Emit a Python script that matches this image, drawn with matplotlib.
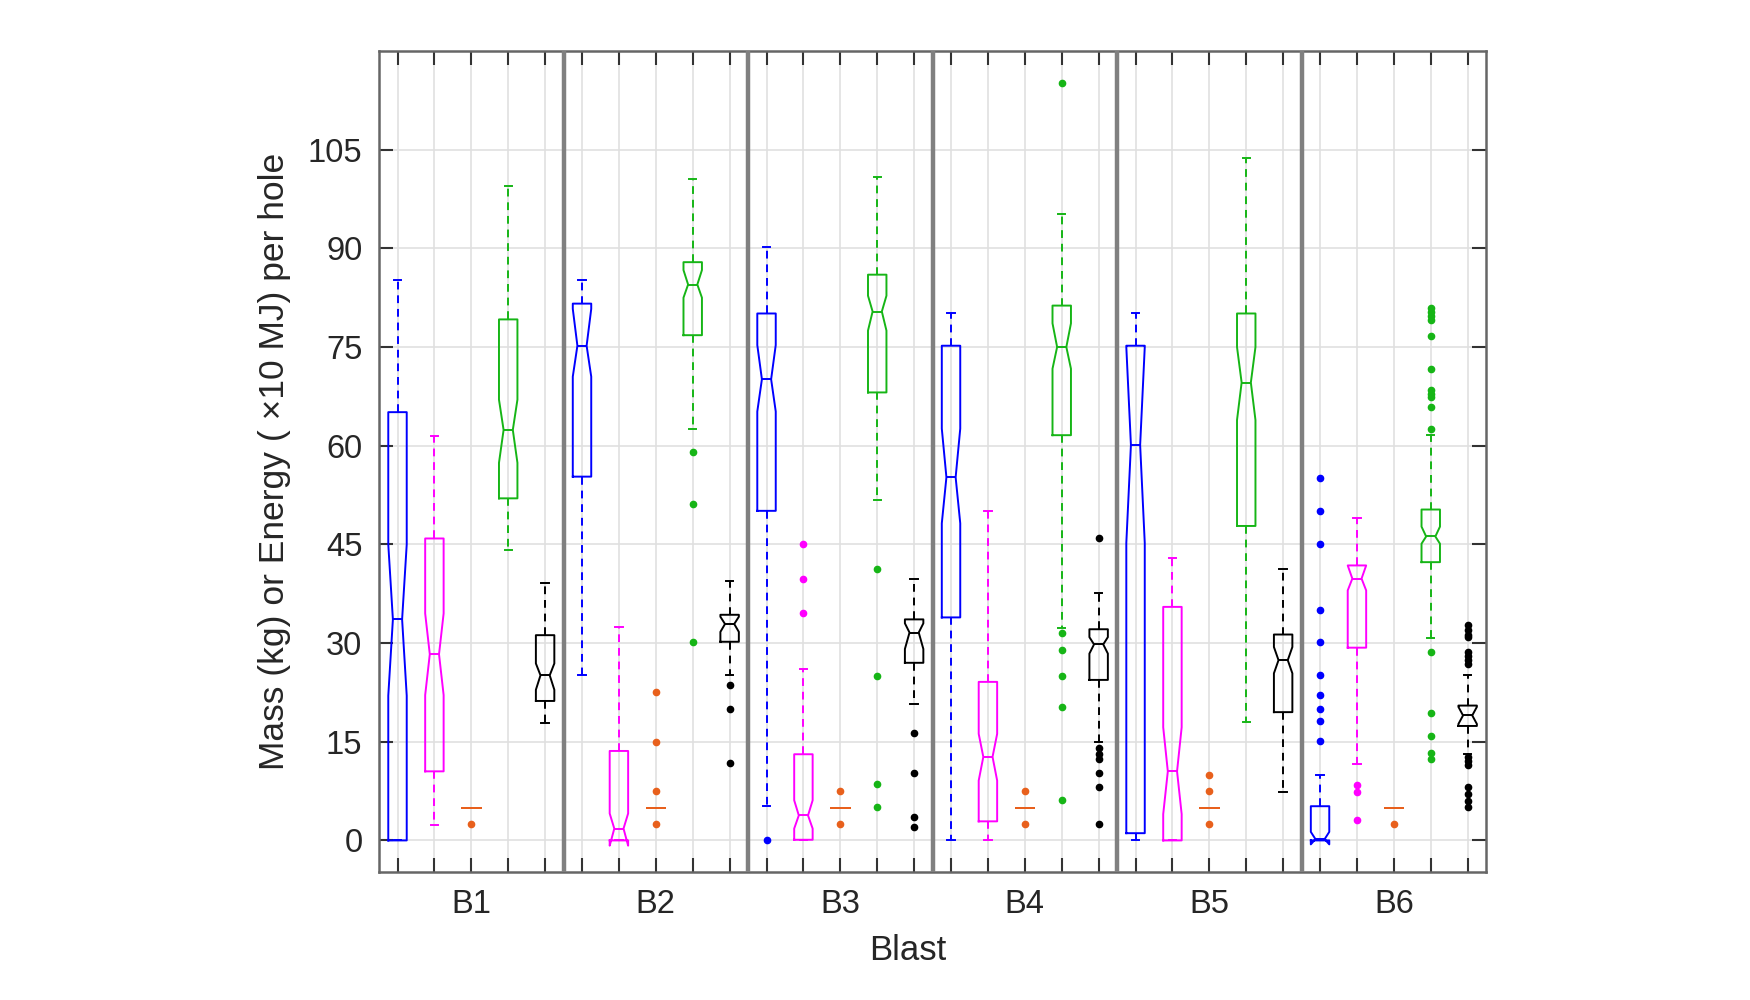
import matplotlib
matplotlib.use('Agg')
import matplotlib.pyplot as plt

plt.rcParams['font.family'] = ['Liberation Sans', 'DejaVu Sans']

blasts = ['B1', 'B2', 'B3', 'B4', 'B5', 'B6']
colors = ['#0000ff', '#ff00ff', '#e8601c', '#16b516', '#000000']

# box statistics, one row per series (blue, magenta, orange, green, black), one value per blast
whishi = [
    [85.2, 85.2, 90.2, 80.1, 80.1, 10.0],
    [61.5, 32.4, 26.1, 50.1, 42.9, 49.0],
    [5, 5, 5, 5, 5, 5],
    [99.5, 100.5, 100.9, 95.2, 103.8, 61.6],
    [39.1, 39.5, 39.8, 37.6, 41.2, 25.1],
]
q3 = [
    [65.1, 81.6, 80.1, 75.2, 75.2, 5.2],
    [45.9, 13.6, 13.1, 24.1, 35.5, 41.8],
    [5, 5, 5, 5, 5, 5],
    [79.2, 87.9, 86.0, 81.3, 80.1, 50.3],
    [31.2, 34.3, 33.6, 32.1, 31.3, 20.5],
]
cihi = [
    [45.0, 80.8, 75.3, 62.6, 75.0, 1.3],
    [34.5, 4.1, 6.1, 16.2, 17.2, 41.8],
    [5, 5, 5, 5, 5, 5],
    [67.0, 86.7, 82.8, 78.6, 75.0, 47.7],
    [26.9, 34.0, 33.0, 30.9, 29.4, 20.3],
]
med = [
    [33.6, 75.2, 70.1, 55.2, 60.1, 0.2],
    [28.3, 1.8, 3.8, 12.7, 10.5, 39.8],
    [5, 5, 5, 5, 5, 5],
    [62.4, 84.5, 80.4, 75.0, 69.6, 46.2],
    [25.1, 32.9, 31.6, 29.8, 27.4, 19.0],
]
cilo = [
    [22.0, 70.5, 65.2, 48.2, 45.2, -0.6],
    [22.1, -0.8, 1.8, 9.1, 4.0, 38.0],
    [5, 5, 5, 5, 5, 5],
    [57.4, 82.5, 77.5, 71.7, 63.9, 45.1],
    [22.9, 31.7, 29.1, 28.4, 25.4, 17.7],
]
q1 = [
    [0, 55.3, 50.1, 33.9, 1.1, 0],
    [10.5, 0, 0.1, 2.9, 0, 29.3],
    [5, 5, 5, 5, 5, 5],
    [52.0, 76.8, 68.1, 61.6, 47.8, 42.3],
    [21.2, 30.2, 27.0, 24.4, 19.5, 17.4],
]
whislo = [
    [0, 25.2, 5.2, 0, 0, 0],
    [2.3, 0, 0, 0, 0, 11.6],
    [5, 5, 5, 5, 5, 5],
    [44.1, 62.5, 51.7, 32.3, 18.0, 30.7],
    [17.8, 25.2, 20.7, 15.0, 7.4, 13.2],
]
fliers = [
    [[], [], [0.1], [], [], [55.1, 50.1, 45.0, 35.1, 30.1, 25.1, 22.1, 20.0, 18.2, 15.1]],
    [[], [], [45.0, 39.7, 34.5], [], [], [8.5, 7.3, 3.1]],
    [[2.5], [22.5, 15, 7.5, 2.5], [7.5, 2.5], [7.5, 2.5], [10, 7.5, 2.5], [2.5]],
    [[], [59.0, 51.1, 30.1], [41.3, 25.0, 8.6, 5.1], [115.1, 31.6, 29.0, 25.0, 20.3, 6.2], [],
     [80.9, 80.3, 79.7, 79.1, 76.7, 71.6, 68.5, 67.9, 67.4, 65.9, 62.6, 28.6, 19.3, 15.9, 13.3, 12.4]],
    [[], [23.6, 20.0, 11.8], [16.4, 10.2, 3.5, 2.1], [46.0, 14.0, 13.2, 12.4, 10.2, 8.1, 2.5], [],
     [32.7, 32.0, 31.3, 30.9, 28.6, 28.0, 27.4, 26.8, 12.7, 12.0, 11.4, 8.1, 7.1, 6.0, 5.1]],
]
yticks = [0, 15, 30, 45, 60, 75, 90, 105]

n_series = len(colors)
fig = plt.figure(figsize=(17.5, 10), dpi=100)
ax = fig.add_axes([0.2166, 0.128, 0.6326, 0.821])

for s, c in enumerate(colors):
    stats = []
    for b in range(len(blasts)):
        stats.append(dict(med=med[s][b], q1=q1[s][b], q3=q3[s][b],
                          cilo=cilo[s][b], cihi=cihi[s][b],
                          whislo=whislo[s][b], whishi=whishi[s][b],
                          fliers=fliers[s][b]))
    pos = [b * n_series + s + 1 for b in range(len(blasts))]
    ax.bxp(stats, positions=pos, widths=0.5, capwidths=0.2, shownotches=True,
           manage_ticks=False, zorder=3,
           boxprops=dict(color=c, linewidth=1.4),
           medianprops=dict(color=c, linewidth=1.4),
           whiskerprops=dict(color=c, linewidth=1.4, linestyle=(0, (4, 3))),
           capprops=dict(color=c, linewidth=1.4),
           flierprops=dict(marker='o', markerfacecolor=c, markeredgecolor=c,
                           markersize=4.5, linestyle='none'))

# group separators
for b in range(1, len(blasts)):
    ax.axvline(b * n_series + 0.5, color='#808080', linewidth=3.2, zorder=4)

n_pos = n_series * len(blasts)
ax.set_xlim(0.5, n_pos + 0.5)
ax.set_ylim(-4.8, 120)
ax.set_xticks(range(1, n_pos + 1))
labels = ['' for _ in range(n_pos)]
for b, name in enumerate(blasts):
    labels[b * n_series + n_series // 2] = name
ax.set_xticklabels(labels)
ax.set_yticks(yticks)
ax.set_yticklabels([str(v) for v in yticks])

ax.tick_params(direction='in', length=10, width=1.5, color='#333333',
               top=True, right=True, labelsize=23.5, labelcolor='#262626')
ax.tick_params(axis='x', pad=12)
ax.tick_params(axis='y', pad=12)
ax.grid(True, color='#e0e0e0', linewidth=1.2, zorder=0)
ax.set_axisbelow(True)
for sp in ax.spines.values():
    sp.set_color('#666666')
    sp.set_linewidth(1.8)

ax.set_xlabel('Blast', fontsize=25, color='#262626')
ax.xaxis.set_label_coords(0.478, -0.075)
ax.set_ylabel('Mass (kg) or Energy ( \u00d710 MJ) per hole', fontsize=25.5,
              color='#262626', labelpad=12)

fig.savefig('out.png', dpi=100)
